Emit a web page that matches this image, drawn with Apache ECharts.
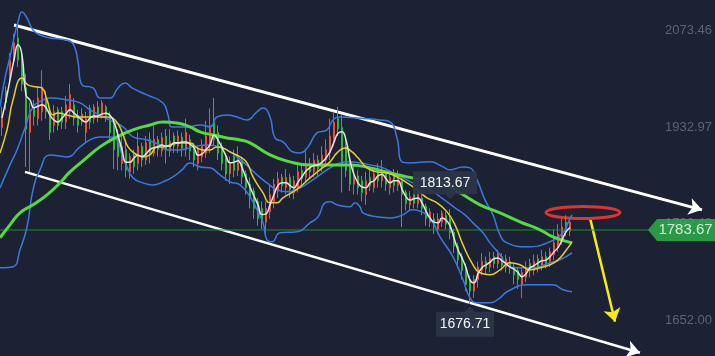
<!DOCTYPE html>
<html><head><meta charset="utf-8">
<script src="https://cdn.jsdelivr.net/npm/echarts@6/dist/echarts.min.js"></script>
<style>html,body{margin:0;padding:0;background:#1c2234;}#c{width:715px;height:356px;}</style>
</head><body><div id="c"></div>
<script>
// y-axis tick labels
const yTicks = [1652.00, 1792.48, 1932.97, 2073.46];
// candles: [open, close, low, high], one per bar index
const candles = [
[1932,1952,1920,1962],[1985,1968,1958,1992],[2005,2030,1998,2040],[2030,2055,2025,2068],[2062,2030,2020,2081],
[2030,1995,1985,2040],[1990,1930,1875,2010],[1925,1958,1868,1968],[1960,1948,1935,1972],[1945,1975,1935,1992],
[1955,1990,1942,2015],[1975,1955,1945,1985],[1955,1925,1914,1962],[1935,1955,1925,1965],[1958,1935,1928,1962],
[1955,1940,1930,1962],[1940,1965,1930,1978],[1955,1980,1945,1995],[1965,1945,1935,1975],[1950,1935,1925,1958],
[1940,1952,1935,1960],[1925,1945,1910,1955],[1960,1940,1930,1965],[1945,1962,1938,1966],[1962,1950,1940,1970],
[1950,1968,1945,1972],[1962,1950,1940,1965],[1950,1925,1910,1955],[1940,1900,1872,1945],[1920,1890,1870,1930],
[1880,1905,1870,1925],[1900,1870,1860,1910],[1868,1890,1858,1895],[1892,1875,1865,1900],[1880,1905,1870,1925],
[1905,1885,1875,1910],[1885,1910,1878,1920],[1915,1895,1880,1925],[1895,1915,1890,1935],[1915,1900,1890,1920],
[1898,1918,1890,1925],[1920,1900,1880,1930],[1898,1912,1890,1930],[1920,1905,1895,1925],[1905,1920,1895,1928],
[1918,1902,1890,1925],[1900,1925,1890,1945],[1915,1898,1885,1922],[1905,1885,1875,1910],[1880,1900,1870,1905],
[1890,1905,1882,1915],[1895,1920,1888,1942],[1905,1935,1895,1960],[1940,1915,1905,1975],[1925,1895,1885,1935],
[1905,1880,1870,1910],[1890,1865,1855,1895],[1865,1880,1850,1890],[1890,1870,1860,1900],[1870,1890,1862,1905],
[1885,1860,1850,1890],[1865,1845,1835,1870],[1850,1830,1815,1860],[1840,1815,1800,1845],[1825,1800,1790,1830],
[1815,1795,1785,1825],[1795,1815,1778,1825],[1810,1835,1800,1850],[1825,1850,1815,1858],[1840,1858,1830,1868],
[1860,1848,1838,1865],[1845,1860,1835,1872],[1860,1842,1830,1865],[1838,1855,1828,1862],[1845,1868,1838,1882],
[1870,1858,1848,1878],[1860,1878,1852,1898],[1880,1868,1858,1888],[1868,1885,1860,1895],[1885,1872,1862,1892],
[1875,1892,1868,1905],[1885,1900,1875,1915],[1895,1920,1885,1945],[1915,1940,1905,1955],[1945,1930,1920,1962],
[1932,1880,1838,1950],[1905,1870,1860,1915],[1875,1850,1840,1890],[1850,1862,1835,1880],[1862,1845,1835,1870],
[1855,1838,1825,1862],[1835,1855,1820,1868],[1860,1848,1840,1870],[1845,1865,1838,1875],[1870,1855,1845,1880],
[1855,1870,1845,1885],[1865,1850,1840,1870],[1845,1860,1835,1868],[1862,1848,1838,1872],[1848,1862,1840,1870],
[1855,1835,1788,1860],[1838,1822,1812,1842],[1820,1832,1812,1840],[1835,1822,1815,1842],[1822,1838,1815,1845],
[1830,1815,1805,1835],[1818,1800,1790,1822],[1795,1810,1788,1815],[1800,1788,1778,1808],[1785,1800,1778,1808],
[1795,1808,1788,1812],[1805,1792,1785,1810],[1800,1780,1770,1813.67],[1780,1760,1750,1785],[1760,1740,1728,1765],
[1745,1725,1712,1750],[1730,1705,1695,1735],[1712,1695,1676.71,1718],[1695,1712,1685,1718],[1712,1730,1700,1738],
[1725,1738,1718,1750],[1738,1728,1720,1745],[1730,1742,1722,1752],[1745,1735,1728,1752],[1735,1748,1728,1755],
[1745,1732,1725,1750],[1730,1742,1722,1748],[1738,1728,1720,1745],[1730,1718,1705,1735],[1725,1712,1698,1730],
[1705,1722,1685,1728],[1715,1730,1708,1738],[1735,1725,1715,1742],[1725,1738,1718,1748],[1742,1730,1722,1748],
[1732,1745,1725,1755],[1745,1735,1728,1752],[1738,1752,1730,1758],[1748,1765,1740,1785],[1760,1778,1752,1792],
[1770,1788,1762,1800],[1795,1785,1775,1805],[1782,1795,1775,1800]
];
// white fast average, one value per bar
const ma5 = [
1946,1972,2001,2030,2052,2037,1979,1972,1961,1963,
1965,1961,1950,1943,1940,1946,1952,1958,1953,1948,
1943,1940,1946,1949,1949,1952,1953,1950,1940,1921,
1900,1882,1882,1888,1892,1890,1894,1900,1903,1904,
1907,1905,1905,1910,1910,1911,1911,1908,1903,1892,
1894,1900,1907,1921,1914,1903,1891,1881,1882,1884,
1874,1859,1846,1833,1820,1806,1807,1820,1835,1848,
1852,1852,1848,1845,1853,1861,1869,1874,1877,1878,
1882,1888,1897,1911,1924,1926,1914,1885,1864,1852,
1846,1845,1852,1855,1862,1864,1858,1852,1855,1855,
1843,1832,1827,1829,1830,1823,1811,1801,1795,1794,
1801,1798,1790,1772,1755,1743,1729,1711,1707,1720,
1729,1733,1737,1742,1743,1739,1735,1730,1727,1722,
1716,1720,1729,1732,1736,1739,1740,1745,1752,1758,
1769,1781,1787
];
// yellow average [barIndex, price]
const ma10 = [[-0.5,1895.4],[1.25,1928.7],[2.75,1972.2],[5,2004.0],[6.5,1993.9],[8.75,1991.0],[10,1989.5],[11.25,1972.2],[12.75,1950.4],[14,1953.3],[16.25,1950.4],[18.75,1947.5],[21.25,1947.5],[23.75,1947.5],[26.25,1947.5],[28.25,1943.2],[30,1925.8],[31.5,1904.1],[33.75,1892.5],[35.25,1889.6],[37,1892.5],[38.75,1904.1],[40.25,1904.1],[42,1907.0],[44.5,1909.9],[47,1909.9],[48.75,1902.6],[50.25,1899.7],[52,1899.7],[53.75,1904.1],[55.25,1902.6],[57,1896.8],[59.5,1889.6],[61.25,1880.9],[62.75,1860.6],[65.25,1837.5],[67,1823.0],[68.75,1823.0],[70.25,1830.2],[72.75,1838.9],[74.5,1846.1],[77,1859.2],[79.5,1870.8],[82,1882.4],[83.75,1895.4],[85.75,1902.6],[87.5,1896.8],[89,1888.2],[91.25,1873.7],[93.75,1867.9],[96.25,1866.4],[98.75,1860.6],[101.25,1851.9],[103.75,1841.8],[106.25,1830.2],[108.75,1823.0],[111.25,1809.9],[113.25,1791.1],[115.25,1762.1],[117.75,1733.2],[119.5,1721.6],[122,1718.7],[124.5,1725.9],[127,1736.1],[129.5,1733.2],[132,1725.9],[134.5,1728.8],[137,1733.2],[139,1740.4],[140.75,1752.0],[142.5,1766.5]];
// green slow average
const ma60 = [[-0.5,1772.3],[2,1791.1],[4.5,1808.5],[7.75,1820.1],[11.25,1834.6],[14.5,1851.9],[17,1867.9],[20.25,1883.8],[24.5,1904.1],[28.75,1918.6],[32.75,1928.7],[37,1935.9],[40.25,1940.3],[43.75,1938.8],[47,1933.1],[49.5,1925.8],[52.75,1921.5],[56.25,1917.1],[59.5,1914.2],[62,1909.9],[67,1892.5],[72,1882.4],[77,1878.0],[82,1878.0],[87,1878.0],[92,1873.7],[97,1866.4],[101.25,1860.6],[105.25,1856.3],[110.25,1851.9],[114.5,1837.5],[119.5,1820.1],[124.5,1808.5],[129.5,1795.5],[134.5,1783.9],[137.75,1773.7],[142.5,1765.0]];
// Bollinger bands
const bollUpper = [[-0.5,1962.0],[0.75,2004.0],[2,2034.4],[3.25,2069.2],[4,2085.1],[5,2099.6],[6.25,2090.9],[7.75,2073.5],[9.5,2066.3],[12,2062.0],[14.5,2060.5],[17,2057.6],[18.25,2047.5],[19,2027.2],[20,1993.9],[22.75,1989.5],[24.5,1975.1],[27,1975.1],[29,1989.5],[30.75,1996.8],[32.5,1989.5],[36.25,1979.4],[40.25,1967.8],[41.5,1950.4],[42.5,1933.1],[46.25,1933.1],[49.5,1935.9],[52,1933.1],[53.75,1947.5],[56.25,1950.4],[58.75,1947.5],[61.25,1943.2],[63.75,1954.8],[65.25,1960.6],[67,1947.5],[68.25,1917.1],[70.25,1911.3],[72.75,1896.8],[74.5,1895.4],[76.5,1904.1],[78.75,1924.4],[81.25,1928.7],[82.75,1943.2],[84.5,1947.5],[88.75,1946.1],[94.5,1943.2],[97,1940.3],[98.75,1917.1],[100,1882.4],[102,1880.9],[107,1882.4],[110.25,1875.1],[112,1870.8],[115.25,1875.1],[117,1873.7],[118.75,1856.3],[120.75,1827.3],[122.75,1805.6],[124.5,1776.6],[126.25,1765.0],[131.25,1759.2],[137,1766.5],[140.25,1779.5],[141.5,1794.0],[142.5,1805.6]];
const bollMid = [[-0.5,1844.7],[2,1878.0],[3.75,1899.7],[5.75,1931.6],[7.75,1962.0],[10.25,1972.2],[12,1975.1],[16.25,1972.2],[19.5,1967.8],[22,1957.7],[24.5,1950.4],[27.75,1940.3],[30.25,1933.1],[32.75,1918.6],[36.25,1914.2],[39.5,1907.0],[41.25,1899.7],[44.5,1899.7],[47.75,1904.1],[51.25,1907.0],[54.5,1904.1],[57,1896.8],[60.25,1882.4],[63.75,1863.5],[66.25,1851.9],[68.75,1841.8],[71.25,1838.9],[74.5,1844.7],[77,1853.4],[79.5,1863.5],[82,1873.7],[84.5,1880.9],[87,1882.4],[89.5,1880.9],[92,1878.0],[95.25,1873.7],[97.75,1866.4],[100.25,1859.2],[103.75,1849.0],[107,1841.8],[110.25,1828.8],[113.25,1815.7],[115.75,1805.6],[117.75,1794.0],[120.25,1779.5],[122,1765.0],[124.5,1747.7],[126.25,1733.2],[128.75,1728.8],[132.75,1728.8],[137,1736.1],[139.5,1740.4],[142.5,1750.6]];
const bollLower = [[-0.5,1728.8],[2.75,1730.3],[4.5,1754.9],[6.25,1788.2],[7.75,1841.8],[9.5,1870.8],[12,1892.5],[16.25,1889.6],[19.5,1904.1],[22,1914.2],[24.5,1918.6],[27,1918.6],[28.75,1914.2],[30,1892.5],[31.25,1875.1],[32.75,1859.2],[35.25,1851.9],[37.75,1849.0],[40.25,1853.4],[42.75,1860.6],[45,1870.8],[47,1880.9],[49.5,1875.1],[52,1873.7],[54.5,1863.5],[57,1853.4],[59.5,1849.0],[62,1831.7],[63.75,1812.8],[65.25,1794.0],[66.25,1769.4],[67.5,1766.5],[69.5,1779.5],[73.75,1781.0],[77,1794.0],[79,1802.7],[80.75,1823.0],[82,1824.4],[83.75,1820.1],[87,1817.2],[88.25,1823.0],[89.5,1817.2],[90.25,1808.5],[93.75,1802.7],[97,1801.2],[100.25,1805.6],[102.5,1812.8],[105,1809.9],[107.75,1794.0],[109.5,1773.7],[112.75,1744.8],[115.25,1711.5],[117,1685.4],[118.75,1678.1],[122,1678.1],[124.5,1685.4],[126.25,1694.1],[131.25,1704.2],[137.75,1704.2],[140.25,1697.0],[142.5,1694.1]];
// annotations
const lastPrice = 1783.67;
const highMark = [112, 1813.67];
const lowMark = [117, 1676.71];
const trendUpper = [[3, 2080.8], [175, 1812.8]];
const trendLower = [[5.75, 1867.9], [159.5, 1605.7]];
const forecast = [[147, 1801.2], [153.25, 1650.6]];
const ellipse = [145.25, 1809.0, 9.25, 8.7]; // centre x, centre y, half width, half height (data units)

const chart = echarts.init(document.getElementById('c'));
const lineS = (data, color, width) => ({type:'line', data, showSymbol:false, smooth:true, silent:true,
  lineStyle:{color, width}, itemStyle:{color}});
chart.setOption({
  animation:false,
  backgroundColor:'#1c2234',
  grid:{left:0,right:0,top:0,bottom:0},
  xAxis:{type:'value', min:-0.5, max:178.25, show:false},
  yAxis:{type:'value', position:'right', min:1601, max:2117, splitLine:{show:false},
    axisLine:{show:false}, axisTick:{show:false},
    axisLabel:{inside:true, margin:3, customValues:yTicks, color:'#5c6374', fontSize:13,
      fontFamily:'Liberation Sans, Arial, sans-serif', formatter:v=>v.toFixed(2)}},
  series:[
    {type:'candlestick', data:candles.map((d,i)=>[i].concat(d)), encode:{x:0,y:[1,2,3,4]},
      barWidth:2, itemStyle:{color:'#ee4d3a', color0:'#2cb83d', borderColor:'#ee4d3a', borderColor0:'#2cb83d', borderWidth:1}},
    {type:'line', data:[[-0.5,lastPrice],[162,lastPrice]], showSymbol:false, lineStyle:{color:'#1f8f2c', width:1}},
    lineS(bollUpper,'#3b78df',1.5),
    lineS(bollMid,'#3b78df',1.5),
    lineS(bollLower,'#3b78df',1.5),
    lineS(ma60,'#55db3e',3),
    lineS(ma10,'#e8cf2b',1.5),
    lineS(ma5.map((v,i)=>[i,v]),'#e4e4e4',1.5),
    {type:'lines', coordinateSystem:'cartesian2d', symbol:['none','arrow'], symbolSize:13,
      lineStyle:{color:'#ffffff', width:3, opacity:1},
      data:[{coords:trendUpper},{coords:trendLower, lineStyle:{width:2.5}}]},
    {type:'lines', coordinateSystem:'cartesian2d', symbol:['none','arrow'], symbolSize:13,
      lineStyle:{color:'#f6ea12', width:2.5, opacity:1}, data:[{coords:forecast}]},
    {type:'custom', data:[ellipse], renderItem:(p,api)=>{
        const c = api.coord([api.value(0), api.value(1)]);
        const s = api.size([api.value(2), api.value(3)]);
        return {type:'ellipse', shape:{cx:c[0], cy:c[1], rx:s[0], ry:s[1]},
          style:{fill:'none', stroke:'#e8302c', lineWidth:3}};
      }},
    {type:'scatter', silent:true, z:5, data:[
      {value:highMark, symbol:'path://M0,0 L64,0 L64,23 L42,23 L37,28 L32,23 L0,23 Z', symbolSize:[64,28], symbolOffset:[-5,-24],
        label:{show:true, position:'inside', formatter:'1813.67', offset:[0,-2]}},
      {value:lowMark, symbol:'path://M0,5 L29,5 L34,0 L39,5 L58,5 L58,30 L0,30 Z', symbolSize:[58,30], symbolOffset:[-5,18],
        label:{show:true, position:'inside', formatter:'1676.71', offset:[0,2]}}
      ], itemStyle:{color:'#2c3548', opacity:0.95},
      label:{color:'#ffffff', fontSize:14, fontFamily:'Liberation Sans, Arial, sans-serif'}},
    {type:'scatter', silent:true, z:6, data:[{value:[169.875,lastPrice]}],
      symbol:'path://M0,11 L9,0 L67,0 L67,22 L9,22 Z', symbolSize:[67,22], itemStyle:{color:'#2db84a'},
      label:{show:true, position:'inside', formatter:lastPrice.toFixed(2), color:'#ffffff', fontSize:15, offset:[4,0],
        fontFamily:'Liberation Sans, Arial, sans-serif'}}
  ]
});
</script></body></html>
